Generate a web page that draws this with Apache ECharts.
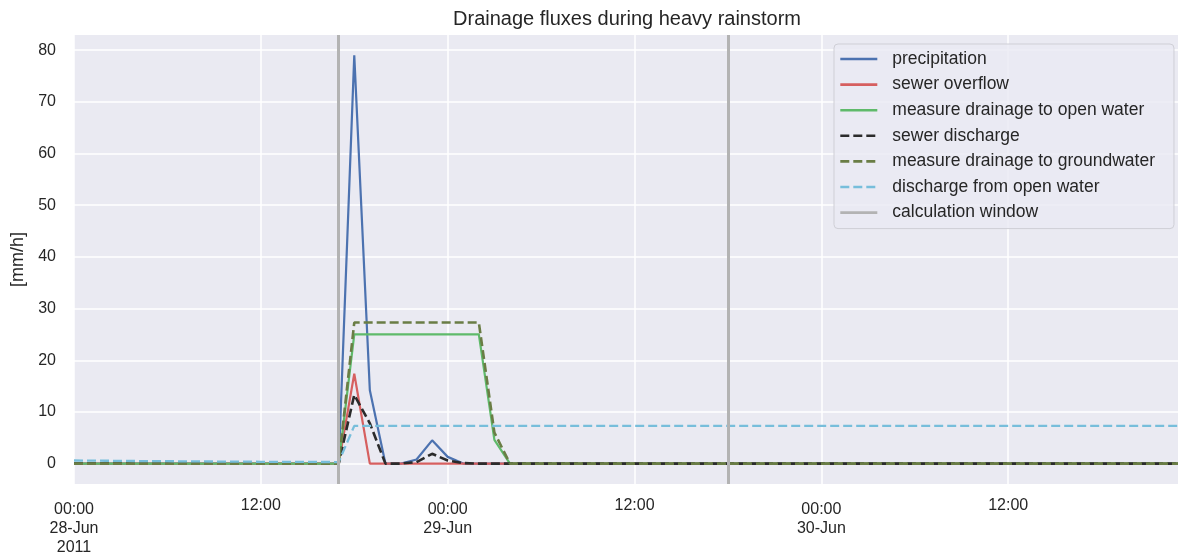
<!DOCTYPE html>
<html>
<head>
<meta charset="utf-8">
<script src="https://cdn.jsdelivr.net/npm/echarts@6/dist/echarts.min.js"></script>
<style>
  html, body { margin: 0; background: #fff; }
  #main { width: 1178px; height: 555px; }
</style>
</head>
<body>
<div id="main"></div>
<script>
// hourly timesteps, 28-Jun-2011 00:00 .. 30-Jun-2011 23:00
const START = Date.UTC(2011, 5, 28)
const HOURS = 72
const times = []
for (let h = 0; h < HOURS; h++) times.push(START + h * 3600e3)

const pad = (n) => String(n).padStart(2, '0')
const categories = times.map((t) => {
  const d = new Date(t)
  return `2011-06-${pad(d.getUTCDate())} ${pad(d.getUTCHours())}:00`
})

const WINDOW_START = '2011-06-28 17:00'
const WINDOW_END = '2011-06-29 18:00'

// values in mm/h, one row = 12 hours
const precipitation = [
  0, 0, 0, 0, 0, 0, 0, 0, 0, 0, 0, 0,
  0, 0, 0, 0, 0, 0, 79, 14.2, 0, 0, 0.8, 4.5,
  1.3, 0, 0, 0, 0, 0, 0, 0, 0, 0, 0, 0,
  0, 0, 0, 0, 0, 0, 0, 0, 0, 0, 0, 0,
  0, 0, 0, 0, 0, 0, 0, 0, 0, 0, 0, 0,
  0, 0, 0, 0, 0, 0, 0, 0, 0, 0, 0, 0,
]
const sewerOverflow = [
  0, 0, 0, 0, 0, 0, 0, 0, 0, 0, 0, 0,
  0, 0, 0, 0, 0, 0, 17.4, 0, 0, 0, 0, 0,
  0, 0, 0, 0, 0, 0, 0, 0, 0, 0, 0, 0,
  0, 0, 0, 0, 0, 0, 0, 0, 0, 0, 0, 0,
  0, 0, 0, 0, 0, 0, 0, 0, 0, 0, 0, 0,
  0, 0, 0, 0, 0, 0, 0, 0, 0, 0, 0, 0,
]
const drainageOpenWater = [
  0, 0, 0, 0, 0, 0, 0, 0, 0, 0, 0, 0,
  0, 0, 0, 0, 0, 0, 25, 25, 25, 25, 25, 25,
  25, 25, 25, 4.6, 0, 0, 0, 0, 0, 0, 0, 0,
  0, 0, 0, 0, 0, 0, 0, 0, 0, 0, 0, 0,
  0, 0, 0, 0, 0, 0, 0, 0, 0, 0, 0, 0,
  0, 0, 0, 0, 0, 0, 0, 0, 0, 0, 0, 0,
]
const sewerDischarge = [
  0, 0, 0, 0, 0, 0, 0, 0, 0, 0, 0, 0,
  0, 0, 0, 0, 0, 0, 13.3, 7.8, 0, 0, 0.3, 1.9,
  0.6, 0.1, 0, 0, 0, 0, 0, 0, 0, 0, 0, 0,
  0, 0, 0, 0, 0, 0, 0, 0, 0, 0, 0, 0,
  0, 0, 0, 0, 0, 0, 0, 0, 0, 0, 0, 0,
  0, 0, 0, 0, 0, 0, 0, 0, 0, 0, 0, 0,
]
const drainageGroundwater = [
  0, 0, 0, 0, 0, 0, 0, 0, 0, 0, 0, 0,
  0, 0, 0, 0, 0, 0, 27.3, 27.3, 27.3, 27.3, 27.3, 27.3,
  27.3, 27.3, 27.3, 6, 0, 0, 0, 0, 0, 0, 0, 0,
  0, 0, 0, 0, 0, 0, 0, 0, 0, 0, 0, 0,
  0, 0, 0, 0, 0, 0, 0, 0, 0, 0, 0, 0,
  0, 0, 0, 0, 0, 0, 0, 0, 0, 0, 0, 0,
]
const openWaterDischarge = [
  0.6, 0.58, 0.55, 0.53, 0.5, 0.48, 0.46, 0.44, 0.42, 0.4, 0.38, 0.37,
  0.35, 0.34, 0.33, 0.32, 0.31, 0.3, 7.3, 7.3, 7.3, 7.3, 7.3, 7.3,
  7.3, 7.3, 7.3, 7.3, 7.3, 7.3, 7.3, 7.3, 7.3, 7.3, 7.3, 7.3,
  7.3, 7.3, 7.3, 7.3, 7.3, 7.3, 7.3, 7.3, 7.3, 7.3, 7.3, 7.3,
  7.3, 7.3, 7.3, 7.3, 7.3, 7.3, 7.3, 7.3, 7.3, 7.3, 7.3, 7.3,
  7.3, 7.3, 7.3, 7.3, 7.3, 7.3, 7.3, 7.3, 7.3, 7.3, 7.3, 7.3,
]

const yTicks = [0, 10, 20, 30, 40, 50, 60, 70, 80]

const TEXT = '#262626'
const FONT = 'Liberation Sans'
const DASH = [9, 4]

function tickLabel(value, index) {
  const d = new Date(times[index])
  if (d.getUTCHours() === 12) return '{minor|12:00}'
  const day = `${pad(d.getUTCDate())}-Jun`
  if (index === 0) return `{major|00:00}\n{major|${day}}\n{major|2011}`
  return `{major|00:00}\n{major|${day}}`
}

function lineSeries(name, data, color, dashed, width) {
  return {
    name,
    type: 'line',
    data,
    symbol: 'none',
    color,
    lineStyle: { color, width, type: dashed ? DASH : 'solid' },
  }
}

const chart = echarts.init(document.getElementById('main'))
chart.setOption({
  animation: false,
  backgroundColor: '#ffffff',
  title: {
    text: 'Drainage fluxes during heavy rainstorm',
    left: 622,
    textAlign: 'center',
    top: 4,
    textStyle: { fontFamily: FONT, fontSize: 20, fontWeight: 'normal', color: TEXT },
  },
  grid: {
    left: 74,
    right: -1.5,
    top: 35,
    bottom: 71,
    outerBoundsMode: 'none',
    show: true,
    backgroundColor: '#eaeaf2',
    borderWidth: 0,
  },
  legend: {
    orient: 'vertical',
    left: 834,
    top: 44,
    padding: [6, 19, 7, 5],
    itemWidth: 37,
    itemHeight: 18,
    itemGap: 7.6,
    itemStyle: { opacity: 0 },
    lineStyle: { width: 2.6 },
    backgroundColor: 'rgba(234,234,242,0.8)',
    borderColor: '#cfcfd6',
    borderWidth: 1,
    borderRadius: 4,
    textStyle: { fontFamily: FONT, fontSize: 17.5, color: TEXT, lineHeight: 18, padding: [0, 0, 0, 10] },
  },
  xAxis: {
    type: 'category',
    data: categories,
    boundaryGap: false,
    axisLine: { show: false },
    axisTick: { show: false },
    axisLabel: {
      interval: 11,
      margin: 16.5,
      formatter: tickLabel,
      fontFamily: FONT,
      fontSize: 16,
      color: TEXT,
      rich: {
        minor: { fontFamily: FONT, fontSize: 16, color: TEXT, lineHeight: 11 },
        major: { fontFamily: FONT, fontSize: 16, color: TEXT, lineHeight: 19 },
      },
    },
    splitLine: { show: true, interval: 11, lineStyle: { color: '#ffffff', width: 1.5 } },
  },
  yAxis: {
    type: 'value',
    min: -3.95,
    max: 82.95,
    name: '[mm/h]',
    nameLocation: 'middle',
    nameRotate: 90,
    nameGap: 40,
    nameTextStyle: { fontFamily: FONT, fontSize: 18, color: TEXT },
    axisLine: { show: false },
    axisTick: { show: false, customValues: yTicks },
    axisLabel: { customValues: yTicks, fontFamily: FONT, fontSize: 16, color: TEXT, margin: 18 },
    splitLine: { show: true, lineStyle: { color: '#ffffff', width: 1.5 } },
  },
  series: [
    lineSeries('precipitation', precipitation, '#4c72b0', false, 2.2),
    lineSeries('sewer overflow', sewerOverflow, '#d65f5f', false, 2.2),
    lineSeries('measure drainage to open water', drainageOpenWater, '#5fba6a', false, 2.2),
    lineSeries('sewer discharge', sewerDischarge, '#2b2b2b', true, 2.6),
    lineSeries('measure drainage to groundwater', drainageGroundwater, '#6a7d45', true, 2.6),
    lineSeries('discharge from open water', openWaterDischarge, '#77bedb', true, 2.3),
    {
      name: 'calculation window',
      type: 'line',
      data: [],
      symbol: 'none',
      color: '#b3b3b3',
      lineStyle: { color: '#b3b3b3', width: 3 },
      z: 1,
      markLine: {
        silent: true,
        symbol: ['none', 'none'],
        label: { show: false },
        lineStyle: { color: '#b3b3b3', width: 3, type: 'solid' },
        data: [{ xAxis: WINDOW_START }, { xAxis: WINDOW_END }],
      },
    },
  ],
})
</script>
</body>
</html>
